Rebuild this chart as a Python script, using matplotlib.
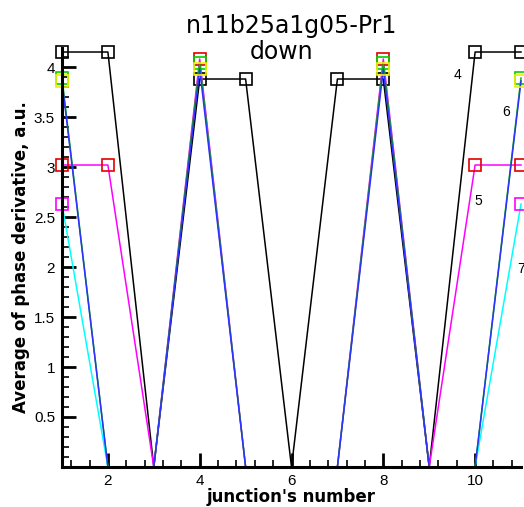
import matplotlib.pyplot as plt
from matplotlib.ticker import FixedLocator, MultipleLocator
import numpy as np

# junction index and averaged phase derivative for each curve
junction = [1, 2, 3, 4, 5, 6, 7, 8, 9, 10, 11]
curve4 = [4.15, 4.15, 0, 3.88, 3.88, 0, 3.88, 3.88, 0, 4.15, 4.15]
curve5 = [3.02, 3.02, 0, 4.08, 0, 0, 0, 4.08, 0, 3.02, 3.02]
curve6a = [3.89, 0, 0, 4.04, 0, 0, 0, 4.04, 0, 0, 3.89]
curve6b = [3.86, 0, 0, 3.98, 0, 0, 0, 3.98, 0, 0, 3.86]
curve7 = [2.63, 0, 0, 0, 0, 0, 0, 0, 0, 0, 2.63]

curve_labels = ["4", "5", "6", "7"]
label_x = [9.61, 10.08, 10.67, 11.0]
label_y = [3.92, 2.66, 3.55, 1.98]

ytick_vals = [0.5, 1, 1.5, 2, 2.5, 3, 3.5, 4]
ytick_text = ["0.5", "1", "1.5", "2", "2.5", "3", "3.5", "4"]
xtick_vals = [2, 4, 6, 8, 10]

plt.rcParams['font.family'] = ['Liberation Sans', 'DejaVu Sans']

fig = plt.figure(figsize=(5.24, 5.07), dpi=100)
ax = fig.add_axes([0.1183, 0.0789, 0.8760, 0.8264])

# (values, line colour, marker colour)
curves = [
    (curve4, "black", "black"),
    (curve5, "#ff00ff", "#e00000"),
    (curve6a, "#00c000", "#00d000"),
    (curve7, "cyan", "#ff00ff"),
    (curve6b, "#3030ff", "#f0f000"),
]

for vals, lc, mc in curves:
    vals = np.array(vals)
    marks = list(np.nonzero(vals)[0])
    ax.plot(junction, vals, color=lc, lw=1.1, marker="s", markersize=8.5,
            markerfacecolor="none", markeredgecolor=mc, markeredgewidth=1.2,
            markevery=marks, clip_on=False)

for t, x, y in zip(curve_labels, label_x, label_y):
    ax.text(x, y, t, fontsize=10, ha="center", va="center")

ax.set_xlim(1, 11)
ax.set_ylim(0, 4.19)

ax.spines["top"].set_visible(False)
ax.spines["right"].set_visible(False)
ax.spines["left"].set_linewidth(2.2)
ax.spines["bottom"].set_linewidth(2.2)

ax.xaxis.set_major_locator(FixedLocator(xtick_vals))
ax.xaxis.set_minor_locator(MultipleLocator(0.4))
ax.yaxis.set_major_locator(FixedLocator(ytick_vals))
ax.set_yticklabels(ytick_text)
ax.yaxis.set_minor_locator(MultipleLocator(0.1))

ax.tick_params(which="major", direction="in", length=10, width=2, labelsize=11, pad=5)
ax.tick_params(which="minor", direction="in", length=5, width=1.2)

ax.set_xlabel("junction's number", fontsize=12, fontweight="bold", labelpad=0,
              family="DejaVu Sans")
ax.set_ylabel("Average of phase derivative, a.u.", fontsize=12, fontweight="bold",
              labelpad=3, family="DejaVu Sans")

fig.text(0.556, 0.948, "n11b25a1g05-Pr1", fontsize=17, ha="center", va="center",
         family="DejaVu Sans")
fig.text(0.537, 0.898, "down", fontsize=17, ha="center", va="center",
         family="DejaVu Sans")

fig.savefig("out.png", dpi=100)
